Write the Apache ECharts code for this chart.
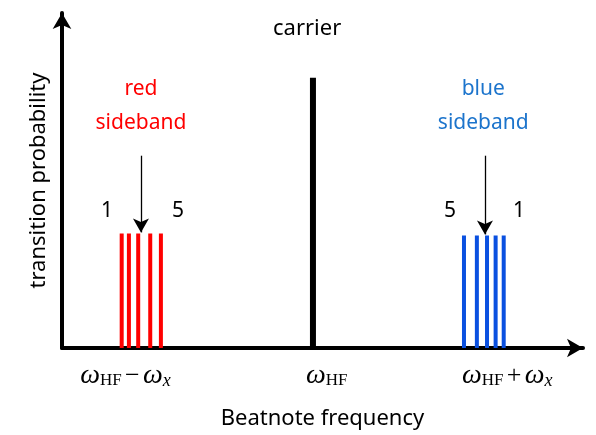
<!DOCTYPE html>
<html><head><meta charset="utf-8">
<script src="https://cdn.jsdelivr.net/npm/echarts@6/dist/echarts.min.js"></script>
<style>html,body{margin:0;padding:0;background:#fff}#c{width:596px;height:435px}</style>
</head><body><div id="c"></div>
<script>
// Frequencies relative to carrier (units of omega_x), probabilities (arbitrary)
const redFreqs = [-1.112, -1.070, -1.016, -0.946, -0.884];
const redProbs = [0.342, 0.342, 0.342, 0.342, 0.342];
const blueFreqs = [0.878, 0.953, 1.012, 1.062, 1.109];
const blueProbs = [0.336, 0.336, 0.336, 0.336, 0.336];
const carrierFreq = [0];
const carrierProb = [0.807];
const tickPositions = [-1.09, 0.08, 1.13];
const tickLabels = ['{w|ω}{s|HF} {o|−} {w|ω}{x|x}', '{w|ω}{s|HF}', '{w|ω}{s|HF} {o|+} {w|ω}{x|x}'];
const arrowTop = 0.574, arrowRedBottom = 0.345, arrowBlueBottom = 0.339;
const arrowRedX = -1.0, arrowBlueX = 1.0;
const numLabels = [{x: -1.198, y: 0.41, t: '1'}, {x: -0.785, y: 0.41, t: '5'}, {x: 0.797, y: 0.41, t: '5'}, {x: 1.198, y: 0.41, t: '1'}];
const captions = [{x: -1.0, y: 0.723, t: 'red\nsideband', c: '#ff0000'}, {x: 0.99, y: 0.723, t: 'blue\nsideband', c: '#1c74cc'}];

function segs(xs, ys) {
  const d = [];
  xs.forEach((x, i) => { d.push([x, 0], [x, ys[i]], [x, '-']); });
  return d;
}

const chart = echarts.init(document.getElementById('c'));
chart.setOption({
  animation: false,
  grid: {left: 62, right: 13, top: 13, bottom: 87},
  xAxis: {
    type: 'value', min: -1.459, max: 1.570,
    splitLine: {show: false},
    axisTick: {show: false},
    axisLine: {show: true, onZero: false, lineStyle: {color: '#000', width: 4}, symbol: ['none', 'arrow'], symbolSize: [14, 16]},
    axisLabel: {
      customValues: tickPositions,
      margin: 14,
      formatter: function (v) { const i = tickPositions.indexOf(v); return i >= 0 ? tickLabels[i] : ''; },
      rich: {
        w: {fontFamily: 'Liberation Serif', fontStyle: 'italic', fontSize: 28, color: '#000'},
        s: {fontFamily: 'Liberation Serif', fontSize: 17, color: '#000', padding: [10, 0, 0, 0]},
        x: {fontFamily: 'Liberation Serif', fontStyle: 'italic', fontSize: 18, color: '#000', padding: [10, 0, 0, 0]},
        o: {fontFamily: 'Liberation Serif', fontSize: 26, color: '#000'}
      }
    },
    name: 'Beatnote frequency', nameLocation: 'middle', nameGap: 60,
    nameTextStyle: {fontFamily: 'Noto Sans', fontSize: 22, color: '#000'}
  },
  yAxis: {
    type: 'value', min: 0, max: 1,
    splitLine: {show: false}, axisTick: {show: false}, axisLabel: {show: false},
    axisLine: {show: true, onZero: false, lineStyle: {color: '#000', width: 4}, symbol: ['none', 'arrow'], symbolSize: [14, 16]},
    name: 'transition probability', nameLocation: 'middle', nameGap: 12, nameRotate: 90,
    nameTextStyle: {fontFamily: 'Noto Sans', fontSize: 22, color: '#000'}
  },
  graphic: [
    {type: 'text', left: 273, top: 18, style: {text: 'carrier', font: '22px "Noto Sans"', fill: '#000'}}
  ],
  series: [
    {type: 'line', data: segs(carrierFreq, carrierProb), symbol: 'none', lineStyle: {color: '#000', width: 6, cap: 'butt'}, connectNulls: false},
    {type: 'line', data: segs(redFreqs, redProbs), symbol: 'none', lineStyle: {color: '#ff0000', width: 4, cap: 'butt'}, connectNulls: false,
      markLine: {silent: true, symbol: ['none', 'arrow'], symbolSize: [12, 14], label: {show: false},
        lineStyle: {color: '#000', width: 1.3, type: 'solid'},
        data: [[{coord: [arrowRedX, arrowTop]}, {coord: [arrowRedX, arrowRedBottom]}]]}},
    {type: 'line', data: segs(blueFreqs, blueProbs), symbol: 'none', lineStyle: {color: '#0a50e0', width: 4, cap: 'butt'}, connectNulls: false,
      markLine: {silent: true, symbol: ['none', 'arrow'], symbolSize: [12, 14], label: {show: false},
        lineStyle: {color: '#000', width: 1.3, type: 'solid'},
        data: [[{coord: [arrowBlueX, arrowTop]}, {coord: [arrowBlueX, arrowBlueBottom]}]]}},
    {type: 'scatter', symbolSize: 0, silent: true, itemStyle: {opacity: 1},
      data: numLabels.map(d => ({value: [d.x, d.y], name: d.t})),
      label: {show: true, position: 'inside', formatter: p => p.name, fontFamily: 'Noto Sans', fontSize: 21, color: '#000', opacity: 1}},
    {type: 'scatter', symbolSize: 0, silent: true, itemStyle: {opacity: 1},
      data: captions.map(d => ({value: [d.x, d.y], name: d.t, label: {color: d.c}})),
      label: {show: true, position: 'inside', formatter: p => p.name, fontFamily: 'Noto Sans', fontSize: 21, lineHeight: 34, opacity: 1}}
  ]
});
</script></body></html>
